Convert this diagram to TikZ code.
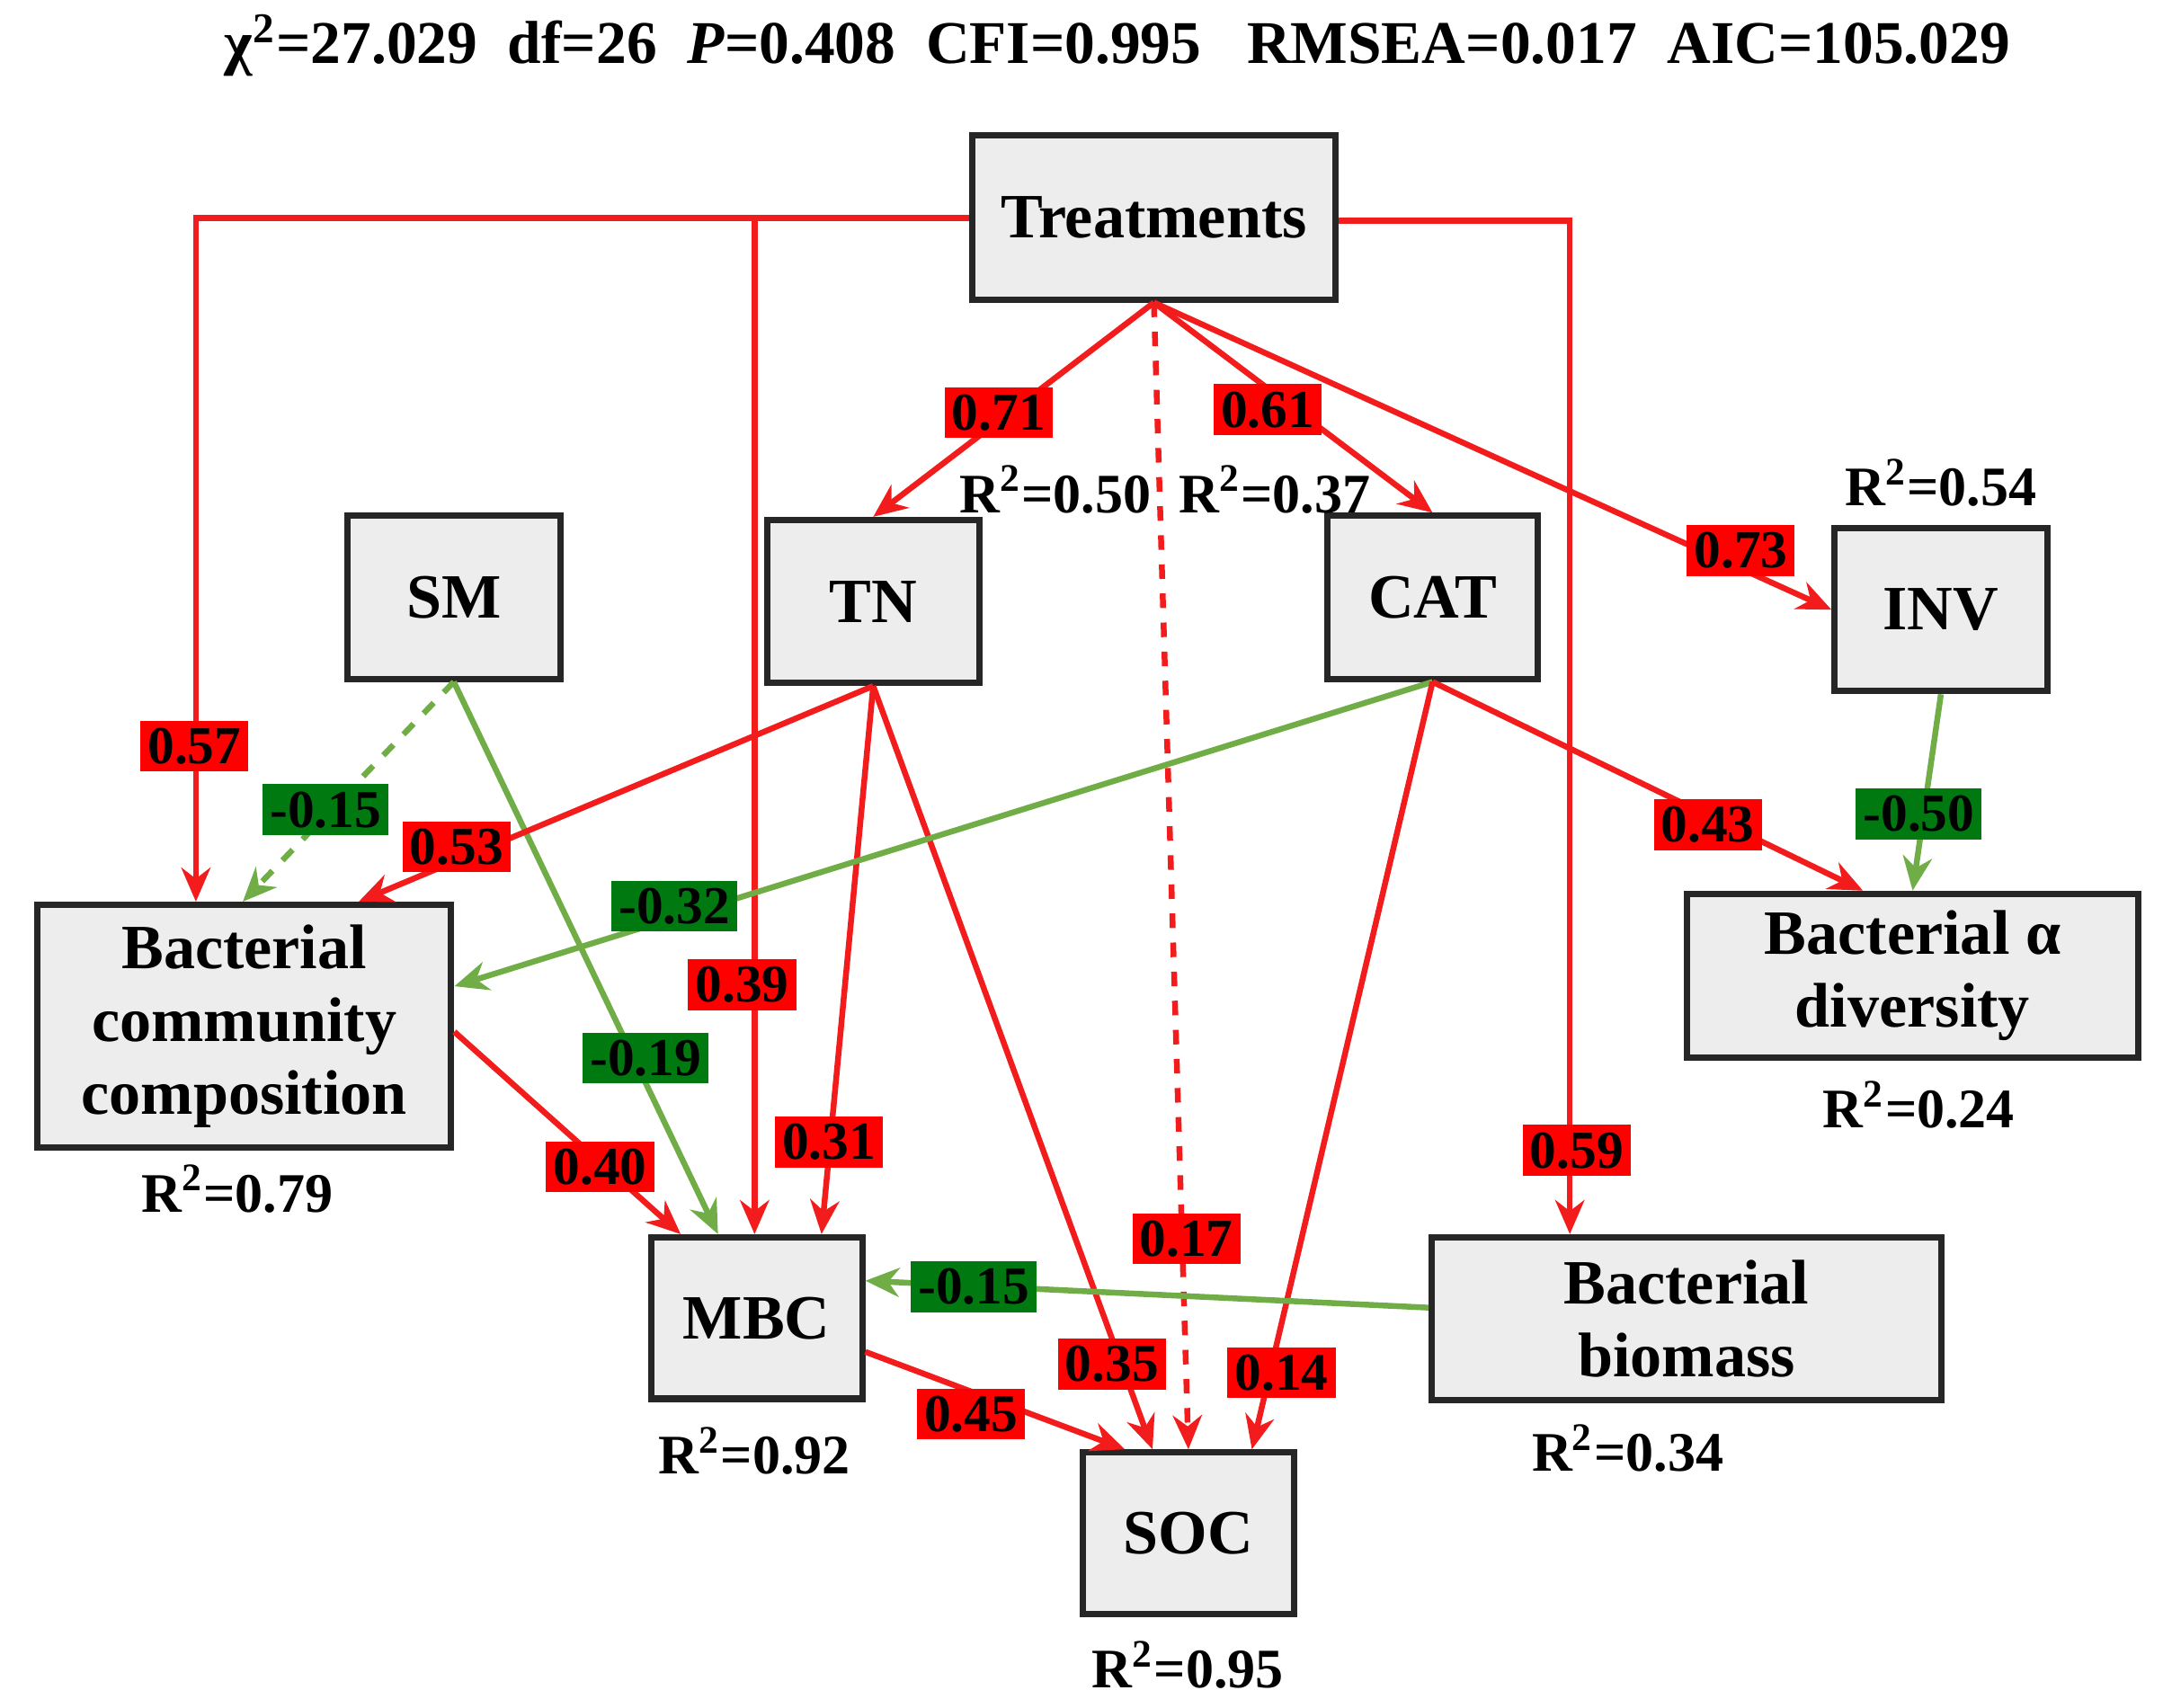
\documentclass[tikz,border=0pt]{standalone}
\usepackage{fontspec}
\setmainfont{Liberation Serif}
\usetikzlibrary{arrows.meta}
\definecolor{rl}{HTML}{F21C1C}
\definecolor{gl}{HTML}{70AD47}
\definecolor{rb}{HTML}{FF0000}
\definecolor{gb}{HTML}{007A10}
\begin{document}
\begin{tikzpicture}[x=0.01cm,y=-0.01cm,
 box/.style={draw=black!85,line width=1.3pt,fill=black!7,font=\fontsize{13}{15}\selectfont\bfseries,align=center,inner sep=0pt},
 red/.style={draw=rl,line width=1.2pt,-{Stealth[length=7pt,width=6pt]}},
 grn/.style={draw=gl,line width=1.2pt,-{Stealth[length=7pt,width=6pt]}},
 rlab/.style={fill=rb,font=\fontsize{11}{12}\selectfont\bfseries,inner sep=1.5pt},
 glab/.style={fill=gb,font=\fontsize{11}{12}\selectfont\bfseries,inner sep=1.5pt},
 rsq/.style={font=\fontsize{11.5}{13}\selectfont\bfseries}]
\useasboundingbox (0,0) rectangle (1568,1238);
\node[font=\fontsize{12.5}{14}\selectfont\bfseries] (title) at (810,33) {χ\textsuperscript{2}=27.029\ \ df=26\ \ \textit{P}=0.408\ \ CFI=0.995\ \ \ RMSEA=0.017\ \ AIC=105.029};
\node[box,minimum width=2.63cm,minimum height=1.19cm] (T) at (836.5,157.5) {Treatments};
\node[box,minimum width=1.54cm,minimum height=1.18cm] (SM) at (329,433) {SM};
\node[box,minimum width=1.54cm,minimum height=1.18cm] (TN) at (633,436) {TN};
\node[box,minimum width=1.53cm,minimum height=1.18cm] (CAT) at (1038.5,433) {CAT};
\node[box,minimum width=1.54cm,minimum height=1.18cm] (INV) at (1407,442) {INV};
\node[box,minimum width=3.0cm,minimum height=1.76cm] (BCC) at (177,744) {Bacterial\\community\\composition};
\node[box,minimum width=3.27cm,minimum height=1.19cm] (BA) at (1386.5,707.5) {Bacterial α\\diversity};
\node[box,minimum width=1.53cm,minimum height=1.17cm] (MBC) at (548.5,955.5) {MBC};
\node[box,minimum width=3.69cm,minimum height=1.18cm] (BB) at (1222.5,956) {Bacterial\\biomass};
\node[box,minimum width=1.53cm,minimum height=1.17cm] (SOC) at (861.5,1111.5) {SOC};
% Treatment edges
\coordinate (tl) at (T.west|-0,158);
\coordinate (c1) at (142,158);
\coordinate (c2) at (547,158);
\draw[red] (tl) -- (c1) -- (BCC.north-|c1);
\draw[red] (c2) -- (MBC.north-|c2);
\coordinate (tr) at (T.east|-0,160);
\coordinate (c3) at (1138,160);
\draw[red] (tr) -- (c3) -- (BB.north-|c3);
\draw[red] (T.south) -- (TN.north);
\draw[red] (T.south) -- (CAT.north);
\draw[red] (T.south) -- (INV.west);
\draw[red,dashed] (T.south) -- (SOC.north);
% SM
\draw[grn,dashed] (SM.south) -- ([xshift=-0.01cm]BCC.north);
\draw[grn] (SM.south) -- ([xshift=-0.28cm]MBC.north);
% TN
\draw[red] (TN.south) -- ([xshift=0.83cm]BCC.north);
\draw[red] (TN.south) -- ([xshift=0.47cm]MBC.north);
\draw[red] (TN.south) -- ([xshift=-0.26cm]SOC.north);
% CAT
\draw[grn] (CAT.south) -- ([yshift=0.29cm]BCC.east);
\draw[red] (CAT.south) -- ([xshift=0.46cm]SOC.north);
\draw[red] (CAT.south) -- ([xshift=-0.36cm]BA.north);
\draw[grn] (INV.south) -- (BA.north);
% others
\draw[red] ([yshift=-0.04cm]BCC.east) -- ([xshift=-0.55cm]MBC.north);
\draw[grn] ([yshift=0.08cm]BB.west) -- ([yshift=0.27cm]MBC.east);
\draw[red] ([yshift=-0.245cm]MBC.east) -- ([xshift=-0.46cm]SOC.north);
% path labels
\node[rlab] (l1) at (141,541) {0.57};
\node[rlab] (l2) at (538,714) {0.39};
\node[rlab] (l3) at (1143,834) {0.59};
\node[rlab] (l4) at (724,299) {0.71};
\node[rlab] (l5) at (919,297) {0.61};
\node[rlab] (l6) at (1262,399) {0.73};
\node[rlab] (l7) at (860,898) {0.17};
\node[glab] (l8) at (236,587) {-0.15};
\node[glab] (l9) at (468,767) {-0.19};
\node[rlab] (l10) at (331,614) {0.53};
\node[rlab] (l11) at (601,828) {0.31};
\node[rlab] (l12) at (806,989) {0.35};
\node[glab] (l13) at (489,657) {-0.32};
\node[rlab] (l14) at (929,995) {0.14};
\node[rlab] (l15) at (1238,598) {0.43};
\node[glab] (l16) at (1391,590) {-0.50};
\node[rlab] (l17) at (435,846) {0.40};
\node[glab] (l18) at (706,933) {-0.15};
\node[rlab] (l19) at (704,1025) {0.45};
% R2
\node[rsq] (r1) at (765,355) {R\textsuperscript{2}=0.50};
\node[rsq] (r2) at (924,355) {R\textsuperscript{2}=0.37};
\node[rsq] (r3) at (1407,350) {R\textsuperscript{2}=0.54};
\node[rsq] (r4) at (172,862) {R\textsuperscript{2}=0.79};
\node[rsq] (r5) at (1391,801) {R\textsuperscript{2}=0.24};
\node[rsq] (r6) at (547,1052) {R\textsuperscript{2}=0.92};
\node[rsq] (r7) at (1180,1050) {R\textsuperscript{2}=0.34};
\node[rsq] (r8) at (861,1207) {R\textsuperscript{2}=0.95};
\end{tikzpicture}
\end{document}
